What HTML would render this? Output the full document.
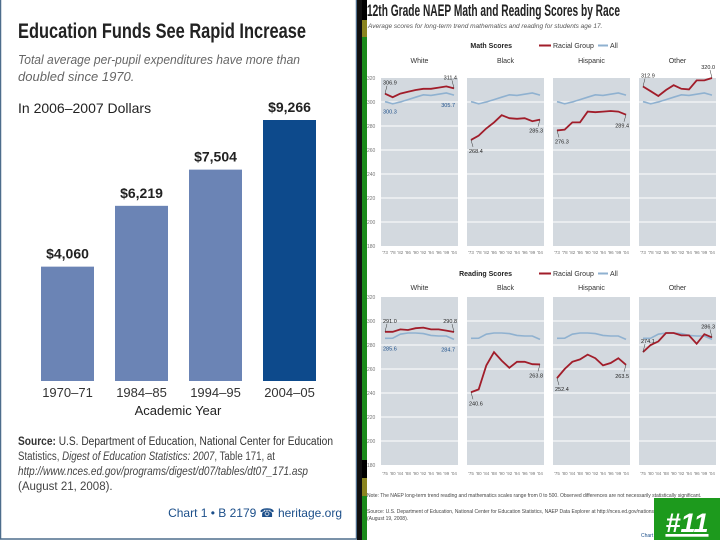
<!DOCTYPE html>
<html><head><meta charset="utf-8"><style>
body{margin:0;width:720px;height:540px;overflow:hidden;background:#fff;font-family:"Liberation Sans",sans-serif}
svg{display:block}
</style></head><body>
<svg id="root" width="720" height="540" xmlns="http://www.w3.org/2000/svg">
<rect x="0" y="0" width="720" height="540" fill="#fff"/>
<rect x="0.5" y="-2" width="356" height="541" fill="#fff" stroke="#4d6d8c" stroke-width="1.5"/>
<rect x="357" y="0" width="5" height="540" fill="#111"/>
<rect x="362" y="0" width="5" height="540" fill="#1a8a1a"/>
<rect x="362" y="0" width="5" height="20" fill="#000"/>
<rect x="362" y="20" width="5" height="17" fill="#8a8420"/>
<rect x="362" y="460" width="5" height="18" fill="#000"/>
<rect x="362" y="478" width="5" height="18" fill="#8a8420"/>
<g id="left">
<text x="18" y="38" font-size="21" font-weight="bold" fill="#222" textLength="288" lengthAdjust="spacingAndGlyphs">Education Funds See Rapid Increase</text>
<text x="18" y="64" font-size="13" font-style="italic" fill="#666" textLength="282" lengthAdjust="spacingAndGlyphs">Total average per-pupil expenditures have more than</text>
<text x="18" y="81" font-size="13" font-style="italic" fill="#666">doubled since 1970.</text>
<text x="18" y="113" font-size="14" fill="#222">In 2006–2007 Dollars</text>
<g id="bars"></g>
<text x="178" y="415" font-size="13" text-anchor="middle" fill="#222">Academic Year</text>
<text x="18" y="445" font-size="11.5" fill="#333" textLength="315" lengthAdjust="spacingAndGlyphs"><tspan font-weight="bold">Source:</tspan> U.S. Department of Education, National Center for Education</text>
<text x="18" y="460" font-size="11.5" fill="#444" textLength="257" lengthAdjust="spacingAndGlyphs">Statistics, <tspan font-style="italic">Digest of Education Statistics: 2007</tspan>, Table 171, at</text>
<text x="18" y="475" font-size="11.5" fill="#444" font-style="italic" textLength="290" lengthAdjust="spacingAndGlyphs">http://www.nces.ed.gov/programs/digest/d07/tables/dt07_171.asp</text>
<text x="18" y="490" font-size="11.5" fill="#444">(August 21, 2008).</text>
<text x="342" y="517" font-size="12" fill="#1c4f8a" text-anchor="end">Chart 1 • B 2179 ☎ heritage.org</text>
</g>
<g id="right">
<text x="367" y="16" font-size="17" font-weight="bold" fill="#222" textLength="253" lengthAdjust="spacingAndGlyphs">12th Grade NAEP Math and Reading Scores by Race</text>
<text x="368" y="28" font-size="6.5" font-style="italic" fill="#555">Average scores for long-term trend mathematics and reading for students age 17.</text>
<g id="panels"></g>
<text x="367" y="497" font-size="5" fill="#444">Note: The NAEP long-term trend reading and mathematics scales range from 0 to 500. Observed differences are not necessarily statistically significant.</text>
<text x="367" y="513" font-size="5" fill="#444">Source: U.S. Department of Education, National Center for Education Statistics, NAEP Data Explorer at http://nces.ed.gov/nationsreportcard/</text>
<text x="367" y="520" font-size="5" fill="#444">(August 19, 2008).</text>
<text x="641" y="537" font-size="5" fill="#1c4f8a">Chart</text>
</g>
<rect x="654" y="498" width="66" height="42" fill="#1d9a1d"/>
<text x="687" y="532" font-size="27" font-weight="bold" font-style="italic" fill="#fff" text-anchor="middle" text-decoration="underline">#11</text>
</svg>
<script>
const NS="http://www.w3.org/2000/svg";
// bar chart data
const barCats=["1970–71","1984–85","1994–95","2004–05"];
const barVals=[4060,6219,7504,9266];
const barLabels=["$4,060","$6,219","$7,504","$9,266"];
// NAEP data
const mathYears=["'73","'78","'82","'86","'90","'92","'94","'96","'99","'04"];
const readYears=["'75","'80","'84","'88","'90","'92","'94","'96","'99","'04"];
const groups=["White","Black","Hispanic","Other"];
const yTicks=[320,300,280,260,240,220,200,180];
const mathAll=[300.3,298.5,300,302,304,306,305.5,306.5,307.5,305.7];
const mathWhite=[306.9,304,307,308.5,310,311,311,312,313,311.4];
const mathBlack=[268.4,272,278,283,289,286.5,286,286.5,284,285.3];
const mathHispanic=[276.3,277,283,283,292,291.5,292,292.5,292,289.4];
const mathOther=[312.9,309,305,310,314,311,310.5,318,318,320.0];
const readAll=[285.6,285.7,289,290,290,289.5,288,287.5,287.5,284.7];
const readWhite=[291.0,291,293,292.5,294,294.5,293,293,292,290.8];
const readBlack=[240.6,243,263,274,267,261,266,266,264,263.8];
const readHispanic=[252.4,260,266,268,272,269,263,265,269,263.5];
const readOther=[274.1,280,283,290,290,288,288,281,289,286.3];

function mk(tag,attrs,parent){const e=document.createElementNS(NS,tag);for(const k in attrs)e.setAttribute(k,attrs[k]);parent.appendChild(e);return e;}

const barsG=document.getElementById('bars');
const base=381, vScale=261/9266;
const yBar=v=>base-v*vScale;
barVals.forEach((v,i)=>{
  const x=41+i*74;
  const r=mk('rect',{x:x,y:yBar(v),width:53,height:base-yBar(v),fill:i===3?'#0d4a8c':'#6b84b5'},barsG);
  
  
  const t=mk('text',{x:x+26.5,y:yBar(v)-8,'font-size':14,'font-weight':'bold','text-anchor':'middle',fill:'#222'},barsG);
  t.textContent=barLabels[i];
  
  
  const c=mk('text',{x:x+26.5,y:397,'font-size':13,'text-anchor':'middle',fill:'#333'},barsG);
  c.textContent=barCats[i];
  
  
});

const P=document.getElementById('panels');
const panelX=[381,467,553,639], pw=77;
function drawSection(top,title,years,all,series,legendY,titleY,labelY){
  const bot=top+168;
  const yS=v=>top+(320-v)*1.2;
  const lg=mk('g',{},P);
  
  
  const lt=mk('text',{x:512,y:legendY,'font-size':7,'font-weight':'bold','text-anchor':'end',fill:'#222'},lg);lt.textContent=title;
  mk('line',{x1:539,y1:legendY-2.5,x2:551,y2:legendY-2.5,stroke:'#a11d2a','stroke-width':2},lg);
  const l1=mk('text',{x:553,y:legendY,'font-size':7,fill:'#333'},lg);l1.textContent='Racial Group';
  mk('line',{x1:598,y1:legendY-2.5,x2:608,y2:legendY-2.5,stroke:'#8fb1d0','stroke-width':2},lg);
  const l2=mk('text',{x:610,y:legendY,'font-size':7,fill:'#333'},lg);l2.textContent='All';
  yTicks.forEach(t=>{const e=mk('text',{x:367,y:yS(t)+2,'font-size':5,fill:'#777'},P);e.textContent=t;});
  groups.forEach((g,gi)=>{
    const x0=panelX[gi];
    const xS=i=>x0+4+i*(pw-8)/(years.length-1);
    const pg=mk('g',{},P);
    
    
    const tt=mk('text',{x:x0+pw/2,y:titleY,'font-size':7,'text-anchor':'middle',fill:'#333'},pg);tt.textContent=g;
    mk('rect',{x:x0,y:top,width:pw,height:bot-top,fill:'#d3d9df'},pg);
    yTicks.forEach(t=>{if(t<320&&t>180)mk('line',{x1:x0,x2:x0+pw,y1:yS(t),y2:yS(t),stroke:'#fff','stroke-width':1},pg);});
    years.forEach((y,i)=>{const e=mk('text',{x:xS(i),y:labelY,'font-size':4.5,'text-anchor':'middle',fill:'#777'},pg);e.textContent=y;});
    const a=mk('polyline',{points:all.map((v,i)=>xS(i)+','+yS(v)).join(' '),fill:'none',stroke:'#8fb1d0','stroke-width':1.6},pg);
    
    
    const s=series[gi];
    const r=mk('polyline',{points:s.map((v,i)=>xS(i)+','+yS(v)).join(' '),fill:'none',stroke:'#a11d2a','stroke-width':1.8},pg);
    
    
    const n=s.length-1;
    const up=s[0]>=all[0]+2||gi==3;
    [[0,'start',x0+2],[n,'end',x0+pw-1]].forEach(([i,anc,tx])=>{
      const ty=up?yS(s[i])-9:yS(s[i])+13;
      const e=mk('text',{x:tx,y:ty,'font-size':5.5,'text-anchor':anc,fill:'#222'},pg);e.textContent=s[i].toFixed(1);
      mk('line',{x1:xS(i),y1:yS(s[i]),x2:xS(i)+(anc=='start'?2:-2),y2:up?ty+1:ty-6,stroke:'#333','stroke-width':0.5},pg);
    });
    if(gi===0){[[0,'start',x0+2],[n,'end',x0+pw-3]].forEach(([i,anc,tx])=>{
      const ty=yS(all[i])+12;
      const e=mk('text',{x:tx,y:ty,'font-size':5.5,'text-anchor':anc,fill:'#1c4f8a'},pg);e.textContent=all[i].toFixed(1);
    });}
  });
}
drawSection(78,'Math Scores',mathYears,mathAll,[mathWhite,mathBlack,mathHispanic,mathOther],48,63,254);
drawSection(297,'Reading Scores',readYears,readAll,[readWhite,readBlack,readHispanic,readOther],276,290,475);
</script>
</body></html>
